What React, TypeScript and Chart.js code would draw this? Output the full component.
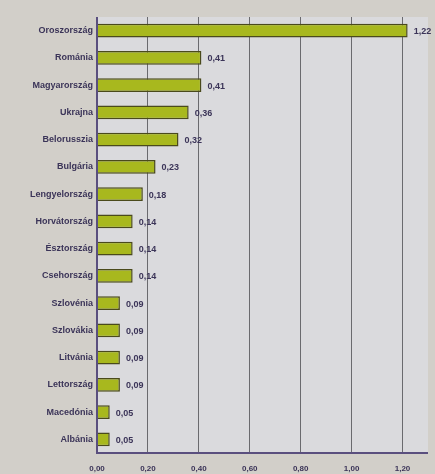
import React, { useEffect, useRef } from "react";
import { Chart, registerables } from "chart.js";

Chart.register(...registerables);

const categories = [
  "Oroszország", "Románia", "Magyarország", "Ukrajna", "Belorusszia", "Bulgária",
  "Lengyelország", "Horvátország", "Észtország", "Csehország", "Szlovénia",
  "Szlovákia", "Litvánia", "Lettország", "Macedónia", "Albánia",
];
const values = [1.22, 0.41, 0.41, 0.36, 0.32, 0.23, 0.18, 0.14, 0.14, 0.14, 0.09, 0.09, 0.09, 0.09, 0.05, 0.05];
const tickValues = [0, 0.2, 0.4, 0.6, 0.8, 1.0, 1.2];

const fmt = (v: number) => v.toFixed(2).replace(".", ",");
const FONT = "'Liberation Sans', Arial, sans-serif";

const bgPlugin = {
  id: "bgPlugin",
  beforeDraw(chart: any) {
    const { ctx, chartArea, width, height } = chart;
    ctx.save();
    ctx.fillStyle = "#d2cfc9";
    ctx.fillRect(0, 0, width, height);
    ctx.fillStyle = "#dadadd";
    ctx.fillRect(chartArea.left, chartArea.top, chartArea.right - chartArea.left, chartArea.bottom - chartArea.top);
    ctx.restore();
  },
  afterDraw(chart: any) {
    const { ctx, chartArea } = chart;
    ctx.save();
    ctx.strokeStyle = "#5a4f7e";
    ctx.lineWidth = 2;
    ctx.beginPath();
    ctx.moveTo(chartArea.left, chartArea.top);
    ctx.lineTo(chartArea.left, chartArea.bottom);
    ctx.lineTo(chartArea.right, chartArea.bottom);
    ctx.stroke();
    const meta = chart.getDatasetMeta(0);
    ctx.fillStyle = "#3b3458";
    ctx.font = `bold 9px ${FONT}`;
    ctx.textBaseline = "middle";
    ctx.textAlign = "left";
    meta.data.forEach((bar: any, i: number) => {
      ctx.fillText(fmt(values[i]), bar.x + 6, bar.y + 1);
    });
    ctx.restore();
  },
};

export default function App() {
  const ref = useRef<HTMLCanvasElement>(null);
  useEffect(() => {
    document.body.style.margin = "0";
    const chart = new Chart(ref.current!, {
      type: "bar",
      data: {
        labels: categories,
        datasets: [
          {
            data: values,
            backgroundColor: "#a8b81e",
            borderColor: "#4a4a1c",
            borderWidth: 1.5,
            barPercentage: 0.5,
            categoryPercentage: 1,
          },
        ],
      },
      plugins: [bgPlugin],
      options: {
        indexAxis: "y",
        animation: false,
        responsive: false,
        layout: { padding: { top: 17, right: 7, left: 0, bottom: 0 } },
        plugins: { legend: { display: false }, tooltip: { enabled: false } },
        scales: {
          x: {
            min: 0,
            max: 1.3,
            afterBuildTicks: (scale: any) => {
              scale.ticks = tickValues.map((v) => ({ value: v }));
            },
            afterFit: (scale: any) => {
              scale.height = 21;
            },
            grid: { color: "#6a6a6e", lineWidth: 1, drawTicks: false },
            border: { display: false },
            ticks: {
              padding: 11,
              color: "#3b3458",
              font: { family: FONT, size: 8, weight: "bold" },
              callback: (v: any) => fmt(Number(v)),
            },
          },
          y: {
            afterFit: (scale: any) => {
              scale.width = 97;
            },
            grid: { display: false, drawTicks: false },
            border: { display: false },
            ticks: {
              padding: 4,
              color: "#3b3458",
              font: { family: FONT, size: 9, weight: "bold" },
            },
          },
        },
      },
    } as any);
    return () => chart.destroy();
  }, []);
  return (
    <div style={{ width: 435, height: 474 }}>
      <canvas ref={ref} width={435} height={474} style={{ display: "block" }} />
    </div>
  );
}
